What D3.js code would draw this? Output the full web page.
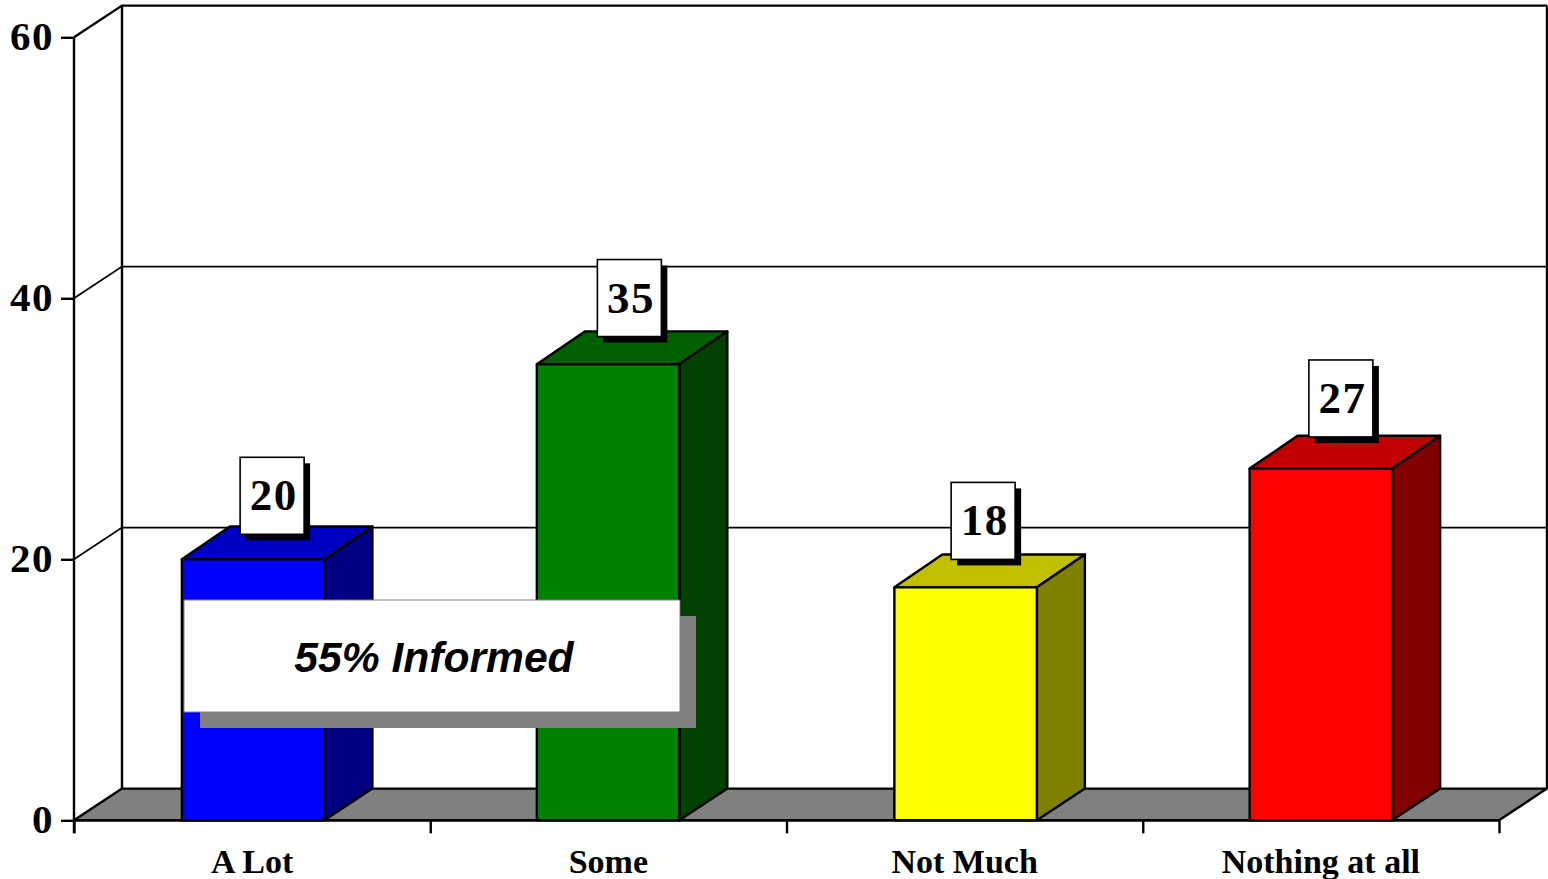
<!DOCTYPE html>
<html><head><meta charset="utf-8">
<script src="https://cdn.jsdelivr.net/npm/d3@7"></script>
<style>html,body{margin:0;padding:0;background:#fff;overflow:hidden}svg{display:block}</style>
</head><body>
<svg id="c" width="1548" height="879"></svg>
<script>
const categories = ["A Lot","Some","Not Much","Nothing at all"];
const barValues = [20,34.95,17.85,26.95];
const valueLabels = ["20","35","18","27"];
const frontColors = ["#0000ff","#008000","#ffff00","#ff0000"];
const topColors = ["#0000c0","#006000","#c0c000","#c00000"];
const sideColors = ["#000080","#004000","#808000","#800000"];
const yTicks = [0,20,40,60];
const note = "55% Informed";

const X0=74,X1=1499,Y0=820.3,Y60=37.3,DX=48,DY=-31.7,BAR_DY=-32.8;
const svg=d3.select("#c");
const y=d3.scaleLinear().domain([0,60]).range([Y0,Y60]);
const xb=d3.scaleBand().domain(categories).range([X0,X1]).paddingInner(0.6).paddingOuter(0.3);
const xe=d3.scaleLinear().domain([0,4]).range([X0,X1]);
const poly=pts=>pts.map(p=>p.join(",")).join(" ");
const SW=2.4;
const barShift=[1,-0.3,1,0];

// floor
svg.append("polygon").attr("points",poly([[X0,Y0],[X0+DX,Y0+DY],[X1+DX,Y0+DY],[X1,Y0]]))
  .attr("fill","#808080").attr("stroke","#000").attr("stroke-width",SW).attr("stroke-linejoin","round");
// back wall
[X0+DX,X1+DX].forEach(x=>svg.append("line").attr("x1",x).attr("x2",x).attr("y1",y(60)+DY).attr("y2",Y0+DY).attr("stroke","#000").attr("stroke-width",SW));
// gridlines + side wall slants
yTicks.filter(d=>d>0).forEach(d=>{
  svg.append("polyline").attr("points",poly([[X0,y(d)],[X0+DX,y(d)+DY],[X1+DX,y(d)+DY]]))
    .attr("fill","none").attr("stroke","#000").attr("stroke-width",d==60?SW:1.8);
});
// axes
const ga=svg.append("g").attr("transform",`translate(${X0},0)`)
  .call(d3.axisLeft(y).tickValues(yTicks).tickSize(13).tickPadding(7));
ga.selectAll("path,line").attr("stroke","#000").attr("stroke-width",SW);
ga.select(".domain").attr("d",`M0,${Y60}V${Y0+13}`);
ga.selectAll("text").attr("font-family","'Liberation Serif'").attr("font-weight","bold").attr("font-size",41).attr("letter-spacing",1.5).attr("dy","0.3em").attr("fill","#000");
const gb=svg.append("g").attr("transform",`translate(0,${Y0})`)
  .call(d3.axisBottom(xe).tickValues([0,1,2,3,4]).tickSize(13).tickFormat(""));
gb.selectAll("path,line").attr("stroke","#000").attr("stroke-width",SW);
gb.select(".domain").attr("d",`M${X0},0H${X1}`);
// category labels
svg.append("g").selectAll("text").data(categories).join("text")
  .attr("x",d=>xb(d)+xb.bandwidth()/2).attr("y",873).attr("text-anchor","middle")
  .attr("font-family","'Liberation Serif'").attr("font-weight","bold").attr("font-size",34).attr("fill","#000").text(d=>d);
// bars
const bars=svg.append("g").selectAll("g").data(categories).join("g");
bars.each(function(c,i){
  const g=d3.select(this),l=xb(c)+barShift[i],r=l+xb.bandwidth(),t=y(barValues[i]);
  const st=s=>s.attr("stroke","#000").attr("stroke-width",SW).attr("stroke-linejoin","round");
  st(g.append("polygon").attr("points",poly([[l,t],[l+DX,t+BAR_DY],[r+DX,t+BAR_DY],[r,t]])).attr("fill",topColors[i]));
  st(g.append("polygon").attr("points",poly([[r,t],[r+DX,t+BAR_DY],[r+DX,Y0+DY],[r,Y0]])).attr("fill",sideColors[i]));
  st(g.append("rect").attr("x",l).attr("y",t).attr("width",r-l).attr("height",Y0-t).attr("fill",frontColors[i]));
});
// annotation
svg.append("rect").attr("x",200).attr("y",616).attr("width",496).attr("height",112).attr("fill","#808080");
svg.append("rect").attr("x",184).attr("y",600).attr("width",496).attr("height",112).attr("fill","#fff").attr("stroke","#808080").attr("stroke-width",1);
svg.append("text").attr("x",434).attr("y",672).attr("text-anchor","middle")
  .attr("font-family","'Liberation Sans'").attr("font-weight","bold").attr("font-style","italic").attr("font-size",42.6).attr("fill","#000").text(note);
// value labels
const W=64,H=77;
const nudgeX=[-1,0,-2.5,-1], nudgeY=[2,0,1,-4];
const lab=svg.append("g").selectAll("g").data(categories).join("g");
lab.each(function(c,i){
  const g=d3.select(this),cx=xb(c)+xb.bandwidth()/2+21+nudgeX[i],b=y(+valueLabels[i])-27+nudgeY[i];
  g.append("rect").attr("x",cx-W/2+6).attr("y",b-H+6).attr("width",W).attr("height",H).attr("fill","#000");
  g.append("rect").attr("x",cx-W/2).attr("y",b-H).attr("width",W).attr("height",H).attr("fill","#fff").attr("stroke","#000").attr("stroke-width",1.6);
  g.append("text").attr("x",cx+1.5).attr("y",b-H+53).attr("text-anchor","middle")
    .attr("font-family","'Liberation Serif'").attr("font-weight","bold").attr("font-size",45).attr("letter-spacing",1.5).attr("fill","#000").text(valueLabels[i]);
});
</script>
</body></html>
